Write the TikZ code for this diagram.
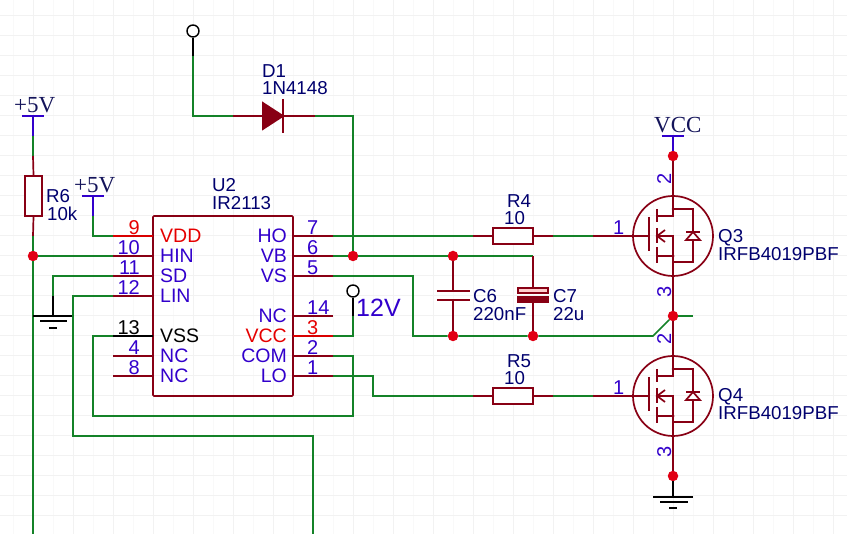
\documentclass[tikz,border=0pt]{standalone}
\usepackage{fontspec}
\usetikzlibrary{calc}
\setmainfont{Liberation Sans}
\newfontfamily\netfont{Liberation Serif}
\definecolor{mywire}{RGB}{20,130,40}
\definecolor{mypin}{RGB}{136,0,20}
\definecolor{myname}{RGB}{50,0,204}
\definecolor{mylabel}{RGB}{0,0,110}
\definecolor{mynet}{RGB}{20,20,90}
\definecolor{mydot}{RGB}{225,0,20}
\definecolor{mygrid}{RGB}{242,242,242}
\definecolor{mygridfaint}{RGB}{249,249,249}
\definecolor{mypink}{RGB}{255,205,205}

\tikzset{
  wire/.style={draw=mywire, line width=1.7pt},
  pin/.style={draw=mypin, line width=1.7pt},
  pinred/.style={draw=red!85!black, line width=1.7pt},
  pinblack/.style={draw=black, line width=1.7pt},
  pwr/.style={draw=myname, line width=1.7pt},
  jdot/.style={circle, fill=mydot, inner sep=0pt, minimum size=10.5pt},
  tinydot/.style={circle, fill=mypin, inner sep=0pt, minimum size=3pt},
  probe/.style={circle, draw=black, fill=white, line width=1.4pt, inner sep=0pt, minimum size=12pt},
  res/.style={rectangle, draw=mypin, fill=white, line width=1.7pt, inner sep=0pt},
  txt/.style={inner sep=0pt, anchor=base west},
  ref/.style={txt, text=mylabel, font=\fontsize{18.7}{19}\selectfont},
  pname/.style={txt, text=myname, font=\fontsize{19.5}{20}\selectfont},
  pnum/.style={txt, text=myname, font=\fontsize{20}{20}\selectfont},
  net/.style={txt, text=mynet, font=\netfont\fontsize{23}{23}\selectfont}
}

% one transistor, #1 = name, centre at coordinate #1
\newcommand{\mosfet}[1]{
  \node [circle, draw=mypin, line width=1.7pt, minimum size=80pt, inner sep=0pt] (#1ring) at (#1) {};
  \draw [pin] (#1) ++(-40,0) -- ++(16,0);
  \draw [pin] (#1) ++(-24,-19) -- ++(0,34);
  \draw [pin] (#1) ++(-16,-27) -- ++(0,13);
  \draw [pin] (#1) ++(-16,-8) -- ++(0,15);
  \draw [pin] (#1) ++(-16,11) -- ++(0,16);
  \draw [pin] (#1) ++(-16,-20) -- ++(16,0) -- ++(0,-20);
  \draw [pin] (#1) ++(-16,0) -- ++(16,0) -- ++(0,40);
  \draw [pin] (#1) ++(-16,20) -- ++(16,0);
  \draw [pin] (#1) ++(-8,-6) -- ++(-8,6) -- ++(8,6);
  \draw [pin] (#1) ++(0,-27) -- ++(20,0) -- ++(0,53) -- ++(-20,0);
  \draw [pin] (#1) ++(13,-4) -- ++(14,0);
  \draw [pin, fill=white] (#1) ++(20,-4) -- ++(-7,8) -- ++(14,0) -- cycle;
  \node [tinydot] at ($(#1)+(0,-27)$) {};
  \node [tinydot] at ($(#1)+(0,20)$) {};
}

\begin{document}
\begin{tikzpicture}[x=1pt, y=-1pt]
\useasboundingbox (0,0) rectangle (847,534);

% grid
\foreach \gx in {13,53,...,853} {\draw [mygridfaint, line width=1pt] (\gx,0) -- (\gx,534);}
\foreach \gx in {33,73,...,853} {\draw [mygrid, line width=1pt] (\gx,0) -- (\gx,534);}
\foreach \gy in {16,36,...,536} {\draw [mygrid, line width=1pt] (0,\gy) -- (847,\gy);}

% U2
\node [rectangle, draw=mypin, rounded corners=1pt, line width=1.7pt, minimum width=140pt, minimum height=180pt, inner sep=0pt] (uu) at (223,306) {};
\node [ref] (uuref) at (212,192) {U2};
\node [ref] (uuval) at (212,210) {IR2113};

% pin ends
\coordinate (p9) at (113,236);   \coordinate (p9i) at (153,236);
\coordinate (p10) at (113,256);  \coordinate (p10i) at (153,256);
\coordinate (p11) at (113,276);  \coordinate (p11i) at (153,276);
\coordinate (p12) at (113,296);  \coordinate (p12i) at (153,296);
\coordinate (p13) at (113,336);  \coordinate (p13i) at (153,336);
\coordinate (p4) at (113,356);   \coordinate (p4i) at (153,356);
\coordinate (p8) at (113,376);   \coordinate (p8i) at (153,376);
\coordinate (p7) at (333,236);   \coordinate (p7i) at (293,236);
\coordinate (p6) at (333,256);   \coordinate (p6i) at (293,256);
\coordinate (p5) at (333,276);   \coordinate (p5i) at (293,276);
\coordinate (p14) at (333,316);  \coordinate (p14i) at (293,316);
\coordinate (p3) at (333,336);   \coordinate (p3i) at (293,336);
\coordinate (p2) at (333,356);   \coordinate (p2i) at (293,356);
\coordinate (p1) at (333,376);   \coordinate (p1i) at (293,376);

\draw [pinred] (p9) -- (p9i);
\foreach \pp in {10,11,12,4,8,7,6,5,14,2,1} {\draw [pin] (p\pp) -- (p\pp i);}
\draw [pinblack] (p13) -- (p13i);
\draw [pinred] (p3) -- (p3i);

% pin names
\node [pname, text=red!90!black] (nvdd) at (160,243) {VDD};
\node [pname] (nhin) at (160,263) {HIN};
\node [pname] (nsd) at (160,283) {SD};
\node [pname] (nlin) at (160,303) {LIN};
\node [pname, text=black] (nvss) at (160,343) {VSS};
\node [pname] (nnca) at (160,363) {NC};
\node [pname] (nncb) at (160,383) {NC};
\node [pname, anchor=base east] (nho) at (287,243) {HO};
\node [pname, anchor=base east] (nvb) at (287,263) {VB};
\node [pname, anchor=base east] (nvs) at (287,283) {VS};
\node [pname, anchor=base east] (nncc) at (287,323) {NC};
\node [pname, anchor=base east, text=red!90!black] (nvcc) at (287,343) {VCC};
\node [pname, anchor=base east] (ncom) at (287,363) {COM};
\node [pname, anchor=base east] (nlo) at (287,383) {LO};

% pin numbers
\node [pnum, anchor=base east, text=red!90!black] (n9) at (140,235) {9};
\node [pnum, anchor=base east] (n10) at (140,255) {10};
\node [pnum, anchor=base east] (n11) at (140,275) {11};
\node [pnum, anchor=base east] (n12) at (140,295) {12};
\node [pnum, anchor=base east, text=black] (n13) at (140,335) {13};
\node [pnum, anchor=base east] (n4) at (140,355) {4};
\node [pnum, anchor=base east] (n8) at (140,375) {8};
\node [pnum] (n7) at (307,235) {7};
\node [pnum] (n6) at (307,255) {6};
\node [pnum] (n5) at (307,275) {5};
\node [pnum] (n14) at (307,315) {14};
\node [pnum, text=red!90!black] (n3) at (307,335) {3};
\node [pnum] (n2) at (307,355) {2};
\node [pnum] (n1) at (307,375) {1};

% R6 and its +5V
\coordinate (vddabar) at (33,116);
\coordinate (vddastub) at (33,136);
\coordinate (rstop) at (33,156);
\coordinate (rsbot) at (33,236);
\coordinate (rsend) at (33,534);
\node [res, minimum width=17pt, minimum height=40pt] (rs) at (33.5,196) {};
\node [jdot] (jhin) at (33,256) {};
\draw [pwr] (22,116) -- (44,116);
\draw [pwr] (vddabar) -- (vddastub);
\draw [wire] (vddastub) -- (rstop);
\draw [pin] (rstop) -- (rs.north);
\draw [pin] (rs.south) -- (rsbot);
\draw [wire] (rsbot) -- (jhin) -- (rsend);
\draw [wire] (jhin) -- (p10);
\node [net] (vddalab) at (14,113) {+5V};
\node [ref] (rsref) at (46,203) {R6};
\node [ref] (rsval) at (47,221) {10k};

% second +5V
\coordinate (vddbbar) at (93,196);
\coordinate (vddbstub) at (93,216);
\draw [pwr] (82,196) -- (104,196);
\draw [pwr] (vddbbar) -- (vddbstub);
\draw [wire] (vddbstub) |- (p9);
\node [net] (vddblab) at (74,193) {+5V};

% SD to ground, LIN, VSS to COM
\coordinate (gnda) at (53,316);
\coordinate (gndastub) at (53,296);
\draw [wire] (p11) -| (gndastub);
\draw [pinblack] (gndastub) -- (gnda);
\draw [pinblack] (33,316) -- (73,316);
\draw [pinblack] (40,321) -- (67,321);
\draw [pinblack] (49,328) -- (57,328);
\coordinate (linend) at (313,534);
\draw [wire] (p12) -| (73,436) -- (313,436) -- (linend);
\draw [wire] (p13) -| (93,416) -- (353,416) |- (p2);

% top probe and D1
\node [probe] (ptop) at (193,31) {};
\coordinate (ptopstub) at (193,56);
\draw [pinblack] (ptop) -- (ptopstub);
\coordinate (danode) at (233,116);
\coordinate (dcath) at (283,116);
\coordinate (dend) at (315,116);
\draw [wire] (ptopstub) |- (danode);
\draw [pin] (danode) -- (dcath) -- (dend);
\draw [pin, fill=mypin] (263,103) -- (283,116) -- (263,129) -- cycle;
\draw [pin] (283,99) -- (283,133);
\node [ref] (dref) at (262,78) {D1};
\node [ref] (dval) at (262,95) {1N4148};

% VB net
\node [jdot] (jvb) at (353,256) {};
\node [jdot] (jca) at (453,256) {};
\coordinate (jcb) at (533,256);
\draw [wire] (dend) -| (jvb);
\draw [wire] (p6) -- (jvb) -- (jca) -- (jcb);

% R4
\node [res, minimum width=40pt, minimum height=16pt] (rfour) at (513,236) {};
\coordinate (rfoura) at (473,236);
\coordinate (rfourb) at (553,236);
\coordinate (qthreeg) at (593,236);
\draw [wire] (p7) -- (rfoura);
\draw [pin] (rfoura) -- (rfour.west);
\draw [pin] (rfour.east) -- (rfourb);
\draw [wire] (rfourb) -- (qthreeg);
\node [ref] (rfourref) at (507,208) {R4};
\node [ref] (rfourval) at (504,225) {10};

% C6 C7
\node [jdot] (jvsa) at (453,336) {};
\node [jdot] (jvsb) at (533,336) {};
\draw [pin] (jca) -- (453,291);
\draw [pin] (437,291) -- (470,291);
\draw [pin] (437,300) -- (470,300);
\draw [pin] (453,300) -- (jvsa);
\draw [pin] (jcb) -- (533,288);
\draw [pin] (533,302) -- (jvsb);
\draw [pin, fill=mypink] (518,288) rectangle (548,293);
\draw [pin, fill=mypin] (518,297) rectangle (548,302);
\node [ref] (csref) at (473,303) {C6};
\node [ref] (csval) at (473,321) {220nF};
\node [ref] (cvref) at (553,303) {C7};
\node [ref] (cvval) at (553,321) {22u};

% VS net
\node [jdot] (jmid) at (673,316) {};
\coordinate (stub) at (693,316);
\draw [wire] (p5) -| (413,336) -- (jvsa) -- (jvsb) -- (653,336) -- (jmid);
\draw [wire] (jmid) -- (stub);

% 12V
\node [probe] (ptw) at (353,291) {};
\coordinate (ptwstub) at (353,316);
\draw [pinblack] (ptw) -- (ptwstub);
\draw [wire] (ptwstub) |- (p3);
\node [pname, font=\fontsize{25}{25}\selectfont] (ptwlab) at (356,317) {12V};

% LO, R5
\node [res, minimum width=40pt, minimum height=16pt] (rfive) at (513,396) {};
\coordinate (rfivea) at (473,396);
\coordinate (rfiveb) at (553,396);
\coordinate (qfourg) at (593,396);
\draw [wire] (p1) -| (373,396) -- (rfivea);
\draw [pin] (rfivea) -- (rfive.west);
\draw [pin] (rfive.east) -- (rfiveb);
\draw [wire] (rfiveb) -- (qfourg);
\node [ref] (rfiveref) at (507,368) {R5};
\node [ref] (rfiveval) at (504,385) {10};

% Q3 Q4
\coordinate (qthree) at (673,236);
\coordinate (qfour) at (673,396);
\mosfet{qthree}
\mosfet{qfour}
\draw [pin] (qthreeg) -- (qthreering.west);
\draw [pin] (qfourg) -- (qfourring.west);
\node [jdot] (jvcc) at (673,156) {};
\node [jdot] (jgnd) at (673,476) {};
\draw [pin] (jvcc) -- (qthreering.north);
\draw [pin] (qthreering.south) -- (jmid) -- (qfourring.north);
\draw [pin] (qfourring.south) -- (jgnd);
\draw [pwr] (662,136) -- (684,136);
\draw [pwr] (673,136) -- (jvcc);
\draw [pinblack] (jgnd) -- (673,497);
\draw [pinblack] (653,497) -- (693,497);
\draw [pinblack] (660,502) -- (688,502);
\draw [pinblack] (669,508) -- (677,508);
\node [net] (vcclab) at (654,133) {VCC};
\node [ref] (qthreeref) at (718,243) {Q3};
\node [ref] (qthreeval) at (718,261) {IRFB4019PBF};
\node [ref] (qfourref) at (718,402) {Q4};
\node [ref] (qfourval) at (718,420) {IRFB4019PBF};
\node [pnum] (qthreeone) at (613,235) {1};
\node [pnum] (qfourone) at (613,395) {1};
\node [pnum, rotate=90, anchor=base] (qthreetwo) at (671,179) {2};
\node [pnum, rotate=90, anchor=base] (qthreethree) at (671,292) {3};
\node [pnum, rotate=90, anchor=base] (qfourtwo) at (671,339) {2};
\node [pnum, rotate=90, anchor=base] (qfourthree) at (671,452) {3};
\end{tikzpicture}
\end{document}
